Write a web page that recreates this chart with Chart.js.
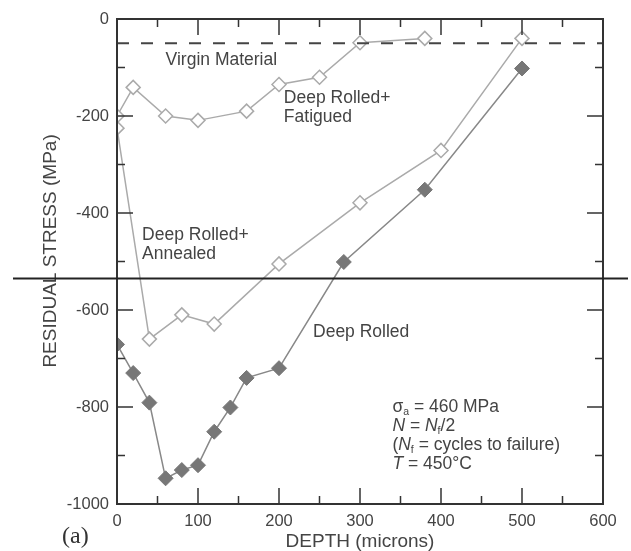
<!DOCTYPE html>
<html>
<head>
<meta charset="utf-8">
<script src="https://cdn.jsdelivr.net/npm/chart.js@4"></script>
<style>
  body { margin: 0; background: #fff; }
  #wrap { width: 631px; height: 551px; }
</style>
</head>
<body>
<div id="wrap"><canvas id="stress-chart" width="631" height="551"></canvas></div>
<script>
// depth (microns) vs residual stress (MPa)
const fatiguedDepth = [0, 20, 60, 100, 160, 200, 250, 300, 380];
const fatiguedStress = [-200, -141, -200, -209, -190, -135, -120, -49, -40];
const annealedDepth = [0, 40, 80, 120, 200, 300, 400, 500];
const annealedStress = [-225, -660, -610, -629, -505, -379, -271, -40];
const rolledDepth = [0, 20, 40, 60, 80, 100, 120, 140, 160, 200, 280, 380, 500];
const rolledStress = [-671, -730, -791, -947, -930, -920, -851, -801, -740, -720, -501, -352, -102];
const virginDepth = [0, 600];
const virginStress = [-50, -50];
const xTicks = [0, 100, 200, 300, 400, 500, 600];
const yTicks = [0, -200, -400, -600, -800, -1000];

const FONT = '"Liberation Sans", Arial, sans-serif';
const TEXT = '#444';

const toPoints = (xs, ys) => xs.map((x, i) => ({ x: x, y: ys[i] }));

// text notes inside the plot, placed in data units (left edge / baseline)
const notes = [
  { x: 60, y: -95, lines: [[{ t: 'Virgin Material' }]] },
  { x: 206, y: -174, lines: [[{ t: 'Deep Rolled+' }], [{ t: 'Fatigued' }]] },
  { x: 31, y: -455, lines: [[{ t: 'Deep Rolled+' }], [{ t: 'Annealed' }]] },
  { x: 242, y: -656, lines: [[{ t: 'Deep Rolled' }]] },
  { x: 340, y: -810, lines: [
    [{ t: 'σ' }, { t: 'a', sub: true }, { t: ' = 460 MPa' }],
    [{ t: 'N', it: true }, { t: ' = ' }, { t: 'N', it: true }, { t: 'f', sub: true }, { t: '/2' }],
    [{ t: '(' }, { t: 'N', it: true }, { t: 'f', sub: true }, { t: ' = cycles to failure)' }],
    [{ t: 'T', it: true }, { t: ' = 450°C' }]
  ] }
];

function drawRich(ctx, x, y, segs, size) {
  segs.forEach(s => {
    const small = s.sub || s.sup;
    const fs = small ? size * 0.6 : size;
    ctx.font = (s.it ? 'italic ' : '') + fs + 'px ' + FONT;
    const dy = s.sub ? size * 0.2 : s.sup ? -size * 0.45 : 0;
    ctx.fillText(s.t, x, y + dy);
    x += ctx.measureText(s.t).width;
  });
}

const framePlugin = {
  id: 'frame',
  afterDatasetsDraw(chart) {
    const ctx = chart.ctx;
    const a = chart.chartArea;
    const xs = chart.scales.x, ys = chart.scales.y;
    ctx.save();
    ctx.strokeStyle = '#333';
    ctx.lineWidth = 2;
    ctx.strokeRect(a.left, a.top, a.right - a.left, a.bottom - a.top);
    ctx.lineWidth = 1.5;
    ctx.beginPath();
    for (let v = 0; v <= 600; v += 50) {
      const px = xs.getPixelForValue(v);
      const len = v % 100 === 0 ? 16 : 8;
      ctx.moveTo(px, a.bottom); ctx.lineTo(px, a.bottom - len);
      ctx.moveTo(px, a.top); ctx.lineTo(px, a.top + len);
    }
    for (let v = -1000; v <= 0; v += 100) {
      const py = ys.getPixelForValue(v);
      const len = v % 200 === 0 ? 16 : 8;
      ctx.moveTo(a.left, py); ctx.lineTo(a.left + len, py);
      ctx.moveTo(a.right, py); ctx.lineTo(a.right - len, py);
    }
    ctx.stroke();

    // text notes
    ctx.fillStyle = TEXT;
    ctx.textBaseline = 'alphabetic';
    ctx.textAlign = 'left';
    notes.forEach(n => {
      const px = xs.getPixelForValue(n.x);
      const py = ys.getPixelForValue(n.y);
      n.lines.forEach((segs, i) => drawRich(ctx, px, py + i * 19, segs, 17.5));
    });

    // panel letter
    ctx.font = '24px "Liberation Serif", "Times New Roman", serif';
    ctx.fillStyle = '#333';
    ctx.fillText('(a)', a.left - 55, a.bottom + 39);

    // long horizontal rule crossing the figure
    const ry = ys.getPixelForValue(-535);
    ctx.strokeStyle = '#222';
    ctx.lineWidth = 2;
    ctx.beginPath();
    ctx.moveTo(13, ry); ctx.lineTo(628, ry);
    ctx.stroke();
    ctx.restore();
  }
};

new Chart(document.getElementById('stress-chart').getContext('2d'), {
  type: 'line',
  data: {
    datasets: [
      {
        label: 'Virgin Material',
        data: toPoints(virginDepth, virginStress),
        borderColor: '#444',
        borderWidth: 2,
        borderDash: [12, 12],
        pointRadius: 0
      },
      {
        label: 'Deep Rolled + Fatigued',
        data: toPoints(fatiguedDepth, fatiguedStress),
        borderColor: '#aaa',
        borderWidth: 1.5,
        pointStyle: 'rectRot',
        pointRadius: 7,
        pointBackgroundColor: '#fff',
        pointBorderColor: '#aaa',
        pointBorderWidth: 1.5
      },
      {
        label: 'Deep Rolled + Annealed',
        data: toPoints(annealedDepth, annealedStress),
        borderColor: '#aaa',
        borderWidth: 1.5,
        pointStyle: 'rectRot',
        pointRadius: 7,
        pointBackgroundColor: '#fff',
        pointBorderColor: '#aaa',
        pointBorderWidth: 1.5
      },
      {
        label: 'Deep Rolled',
        data: toPoints(rolledDepth, rolledStress),
        borderColor: '#888',
        borderWidth: 1.5,
        pointStyle: 'rectRot',
        pointRadius: 7.5,
        pointBackgroundColor: '#777',
        pointBorderColor: '#777',
        pointBorderWidth: 1
      }
    ]
  },
  options: {
    responsive: false,
    animation: false,
    layout: { padding: { top: 19, right: 28, left: 0, bottom: 0 } },
    plugins: { legend: { display: false }, tooltip: { enabled: false } },
    scales: {
      x: {
        type: 'linear',
        min: 0,
        max: 600,
        afterBuildTicks: s => { s.ticks = xTicks.map(v => ({ value: v })); },
        afterFit: s => { s.height = 47; },
        grid: { display: false, drawTicks: false },
        border: { display: false },
        ticks: { padding: 8, color: TEXT, font: { family: FONT, size: 16.5 }, maxRotation: 0, callback: v => String(v) },
        title: { display: true, text: 'DEPTH (microns)', color: TEXT, padding: 0, font: { family: FONT, size: 19, lineHeight: 1 } }
      },
      y: {
        type: 'linear',
        min: -1000,
        max: 0,
        afterBuildTicks: s => { s.ticks = yTicks.map(v => ({ value: v })); },
        afterFit: s => { s.width = 117; },
        grid: { display: false, drawTicks: false },
        border: { display: false },
        ticks: { padding: 8, color: TEXT, font: { family: FONT, size: 16.5 }, callback: v => String(v) },
        title: { display: true, text: '    RESIDUAL STRESS (MPa)', color: TEXT, padding: { top: 39 }, font: { family: FONT, size: 19, lineHeight: 1.2 } }
      }
    }
  },
  plugins: [framePlugin]
});
</script>
</body>
</html>
